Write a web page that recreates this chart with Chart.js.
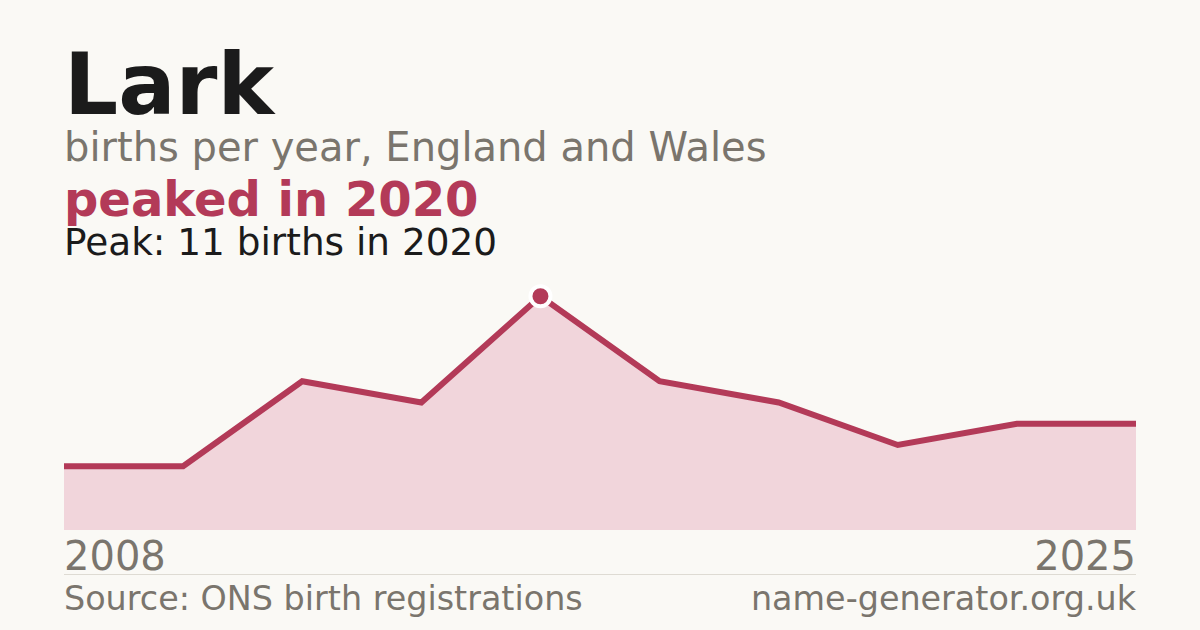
<!DOCTYPE html>
<html>
<head>
<meta charset="utf-8">
<script src="https://cdn.jsdelivr.net/npm/chart.js@4"></script>
<style>
    html, body { margin: 0; padding: 0; }
    body {
        width: 1200px; height: 630px; overflow: hidden;
        background: #faf9f5; position: relative;
        font-family: "DejaVu Sans", sans-serif;
    }
    .txt { position: absolute; white-space: nowrap; line-height: 1; }
    .title { left: 64px; top: 42px; font-size: 85px; font-weight: bold; color: #1b1b1b; }
    .sub { left: 64px; top: 127px; font-size: 40px; color: #7a756d; }
    .peaked { left: 64px; top: 175px; font-size: 48px; font-weight: bold; color: #b33a58; }
    .peak { left: 64px; top: 224px; font-size: 37.4px; color: #1b1b1b; }
    .year { top: 536px; font-size: 40px; color: #7a756d; }
    .year.first { left: 64px; }
    .year.last { right: 64px; }
    .rule { position: absolute; left: 64px; width: 1072px; top: 574px; height: 1px; background: #dedbd3; }
    .foot { top: 582px; font-size: 33.4px; color: #7a756d; }
    .foot.left { left: 64px; }
    .foot.right { right: 64px; }
    .chart__wrap { position: absolute; left: 64px; top: 275px; width: 1072px; height: 255px; }
</style>
</head>
<body>
<div class="txt title">Lark</div>
<div class="txt sub">births per year, England and Wales</div>
<div class="txt peaked" id="peaked"></div>
<div class="txt peak" id="peak"></div>

<div class="chart__wrap"><canvas id="chart__line"></canvas></div>

<div class="txt year first" id="yearFirst"></div>
<div class="txt year last" id="yearLast"></div>
<div class="rule"></div>
<div class="txt foot left">Source: ONS birth registrations</div>
<div class="txt foot right">name-generator.org.uk</div>

<script>
// registered years (gaps are years with too few births to be published)
const years = ['2008', '2009', '2015', '2017', '2020', '2021', '2022', '2023', '2024', '2025'];
const births = [3, 3, 7, 6, 11, 7, 6, 4, 5, 5];
const yMin = 0;
const yMax = 12;

const lineColor = '#b33a58';
const fillColor = '#f1d5db';

let peakValue = Math.max(...births);
let peakIndex = births.indexOf(peakValue);
let peakYear = years[peakIndex];

document.getElementById('peaked').textContent = 'peaked in ' + peakYear;
document.getElementById('peak').textContent = 'Peak: ' + peakValue + ' births in ' + peakYear;
document.getElementById('yearFirst').textContent = years[0];
document.getElementById('yearLast').textContent = years[years.length - 1];

const ctx = document.getElementById('chart__line').getContext('2d');
new Chart(ctx, {
    type: 'line',
    data: {
        labels: years,
        datasets: [{
            data: births,
            borderColor: lineColor,
            backgroundColor: fillColor,
            borderWidth: 6,
            fill: 'origin',
            tension: 0,
            pointRadius: births.map((v, i) => i === peakIndex ? 10 : 0),
            pointBackgroundColor: lineColor,
            pointBorderColor: '#ffffff',
            pointBorderWidth: 4,
            pointHoverRadius: 0
        }]
    },
    options: {
        responsive: true,
        maintainAspectRatio: false,
        animation: false,
        clip: false,
        layout: { padding: 0 },
        plugins: {
            legend: { display: false },
            tooltip: { enabled: false }
        },
        scales: {
            x: { display: false, offset: false },
            y: { display: false, min: yMin, max: yMax }
        }
    }
});
</script>
</body>
</html>
